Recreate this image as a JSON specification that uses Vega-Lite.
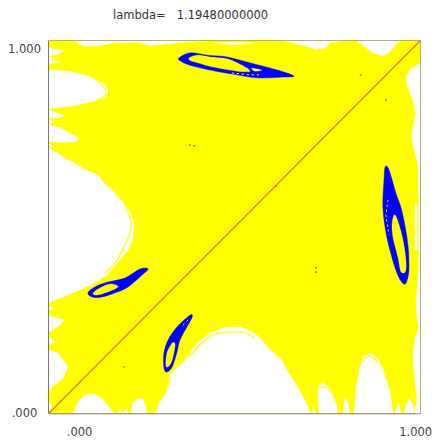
{
"$schema":"https://vega.github.io/schema/vega-lite/v6.json",
"width":371,"height":372,
"autosize":{"type":"none"},
"padding":{"left":49,"top":41,"right":15,"bottom":28},
"background":"#ffffff",
"view":{"stroke":"#777777","strokeWidth":1.5,"fill":null},
"title":{"text":"lambda=\u00a0\u00a0\u00a01.19480000000","anchor":"start","frame":"group","dx":64,"offset":17,"font":"DejaVu Sans","fontSize":11.5,"fontWeight":"normal","color":"#333333"},
"datasets":{"shapes":[
{"g":"base","k":"base","x":0,"y":0},{"g":"base","k":"base","x":1,"y":0},{"g":"base","k":"base","x":1,"y":1},{"g":"base","k":"base","x":0,"y":1},
{"g":"t1","k":"gap","x":0.070,"y":1},{"g":"t1","k":"gap","x":0.092,"y":0.987},{"g":"t1","k":"gap","x":0.129,"y":0.987},{"g":"t1","k":"gap","x":0.173,"y":0.995},{"g":"t1","k":"gap","x":0.237,"y":0.997},{"g":"t1","k":"gap","x":0.272,"y":0.988},{"g":"t1","k":"gap","x":0.326,"y":0.993},{"g":"t1","k":"gap","x":0.367,"y":0.997},{"g":"t1","k":"gap","x":0.407,"y":1},
{"g":"t2","k":"gap","x":0.442,"y":0.995},{"g":"t2","k":"gap","x":0.496,"y":0.996},{"g":"t2","k":"gap","x":0.550,"y":0.995},{"g":"t2","k":"gap","x":0.496,"y":0.989},
{"g":"t3","k":"gap","x":0.636,"y":1},{"g":"t3","k":"gap","x":0.690,"y":0.987},{"g":"t3","k":"gap","x":0.717,"y":0.978},{"g":"t3","k":"gap","x":0.744,"y":0.980},{"g":"t3","k":"gap","x":0.757,"y":0.995},{"g":"t3","k":"gap","x":0.779,"y":0.999},{"g":"t3","k":"gap","x":0.785,"y":1},
{"g":"t4","k":"gap","x":0.830,"y":1},{"g":"t4","k":"gap","x":0.852,"y":0.984},{"g":"t4","k":"gap","x":0.873,"y":0.968},{"g":"t4","k":"gap","x":0.900,"y":0.960},{"g":"t4","k":"gap","x":0.919,"y":0.970},{"g":"t4","k":"gap","x":0.933,"y":0.989},{"g":"t4","k":"gap","x":0.946,"y":1},
{"g":"r1","k":"gap","x":1,"y":0.941},{"g":"r1","k":"gap","x":0.973,"y":0.922},{"g":"r1","k":"gap","x":0.962,"y":0.903},{"g":"r1","k":"gap","x":0.968,"y":0.874},{"g":"r1","k":"gap","x":0.981,"y":0.841},{"g":"r1","k":"gap","x":0.989,"y":0.806},{"g":"r1","k":"gap","x":0.978,"y":0.755},{"g":"r1","k":"gap","x":0.978,"y":0.739},{"g":"r1","k":"gap","x":0.986,"y":0.702},{"g":"r1","k":"gap","x":0.995,"y":0.667},{"g":"r1","k":"gap","x":0.997,"y":0.573},{"g":"r1","k":"gap","x":0.997,"y":0.384},{"g":"r1","k":"gap","x":0.992,"y":0.323},{"g":"r1","k":"gap","x":0.989,"y":0.298},{"g":"r1","k":"gap","x":0.992,"y":0.263},{"g":"r1","k":"gap","x":0.997,"y":0.231},{"g":"r1","k":"gap","x":0.986,"y":0.196},{"g":"r1","k":"gap","x":0.981,"y":0.156},{"g":"r1","k":"gap","x":0.986,"y":0.094},{"g":"r1","k":"gap","x":0.992,"y":0.035},{"g":"r1","k":"gap","x":0.986,"y":0},{"g":"r1","k":"gap","x":1,"y":0},
{"g":"r2","k":"gap","x":0.986,"y":0.565},{"g":"r2","k":"gap","x":0.992,"y":0.559},{"g":"r2","k":"gap","x":0.992,"y":0.438},{"g":"r2","k":"gap","x":0.986,"y":0.438},
{"g":"l1","k":"gap","x":0,"y":0.981},{"g":"l1","k":"gap","x":0.040,"y":0.973},{"g":"l1","k":"gap","x":0.024,"y":0.965},{"g":"l1","k":"gap","x":0,"y":0.960},
{"g":"l2","k":"gap","x":0,"y":0.956},{"g":"l2","k":"gap","x":0.016,"y":0.953},{"g":"l2","k":"gap","x":0,"y":0.950},
{"g":"l3","k":"gap","x":0,"y":0.949},{"g":"l3","k":"gap","x":0.030,"y":0.944},{"g":"l3","k":"gap","x":0,"y":0.938},
{"g":"blob1","k":"gap","x":0,"y":0.923},{"g":"blob1","k":"gap","x":0.065,"y":0.917},{"g":"blob1","k":"gap","x":0.111,"y":0.903},{"g":"blob1","k":"gap","x":0.146,"y":0.887},{"g":"blob1","k":"gap","x":0.159,"y":0.868},{"g":"blob1","k":"gap","x":0.151,"y":0.847},{"g":"blob1","k":"gap","x":0.111,"y":0.836},{"g":"blob1","k":"gap","x":0.065,"y":0.825},{"g":"blob1","k":"gap","x":0,"y":0.819},
{"g":"l4","k":"gap","x":0,"y":0.815},{"g":"l4","k":"gap","x":0.043,"y":0.798},{"g":"l4","k":"gap","x":0.011,"y":0.793},{"g":"l4","k":"gap","x":0,"y":0.796},
{"g":"l5","k":"gap","x":0,"y":0.788},{"g":"l5","k":"gap","x":0.016,"y":0.782},{"g":"l5","k":"gap","x":0,"y":0.777},
{"g":"blob2","k":"gap","x":0,"y":0.774},{"g":"blob2","k":"gap","x":0.030,"y":0.766},{"g":"blob2","k":"gap","x":0.065,"y":0.747},{"g":"blob2","k":"gap","x":0.081,"y":0.737},{"g":"blob2","k":"gap","x":0.070,"y":0.728},{"g":"blob2","k":"gap","x":0.030,"y":0.728},{"g":"blob2","k":"gap","x":0,"y":0.731},
{"g":"l6","k":"gap","x":0,"y":0.723},{"g":"l6","k":"gap","x":0.016,"y":0.715},{"g":"l6","k":"gap","x":0,"y":0.718},
{"g":"blob3","k":"gap","x":0,"y":0.712},{"g":"blob3","k":"gap","x":0.022,"y":0.699},{"g":"blob3","k":"gap","x":0.043,"y":0.685},{"g":"blob3","k":"gap","x":0.078,"y":0.667},{"g":"blob3","k":"gap","x":0.092,"y":0.656},{"g":"blob3","k":"gap","x":0.132,"y":0.640},{"g":"blob3","k":"gap","x":0.146,"y":0.621},{"g":"blob3","k":"gap","x":0.178,"y":0.591},{"g":"blob3","k":"gap","x":0.199,"y":0.567},{"g":"blob3","k":"gap","x":0.218,"y":0.540},{"g":"blob3","k":"gap","x":0.229,"y":0.511},{"g":"blob3","k":"gap","x":0.226,"y":0.470},{"g":"blob3","k":"gap","x":0.213,"y":0.438},{"g":"blob3","k":"gap","x":0.186,"y":0.406},{"g":"blob3","k":"gap","x":0.156,"y":0.371},{"g":"blob3","k":"gap","x":0.111,"y":0.344},{"g":"blob3","k":"gap","x":0.051,"y":0.317},{"g":"blob3","k":"gap","x":0.030,"y":0.309},{"g":"blob3","k":"gap","x":0.008,"y":0.301},{"g":"blob3","k":"gap","x":0,"y":0.296},
{"g":"l7","k":"gap","x":0,"y":0.285},{"g":"l7","k":"gap","x":0.011,"y":0.282},{"g":"l7","k":"gap","x":0,"y":0.277},
{"g":"l8","k":"gap","x":0,"y":0.261},{"g":"l8","k":"gap","x":0.040,"y":0.250},{"g":"l8","k":"gap","x":0.030,"y":0.237},{"g":"l8","k":"gap","x":0,"y":0.218},
{"g":"l9","k":"gap","x":0,"y":0.202},{"g":"l9","k":"gap","x":0.019,"y":0.191},{"g":"l9","k":"gap","x":0,"y":0.185},
{"g":"l10","k":"gap","x":0,"y":0.169},{"g":"l10","k":"gap","x":0.024,"y":0.161},{"g":"l10","k":"gap","x":0.051,"y":0.124},{"g":"l10","k":"gap","x":0.038,"y":0.094},{"g":"l10","k":"gap","x":0,"y":0.062},
{"g":"b0","k":"gap","x":0,"y":0.030},{"g":"b0","k":"gap","x":0.008,"y":0.013},{"g":"b0","k":"gap","x":0,"y":0.005},
{"g":"b1","k":"gap","x":0.065,"y":0},{"g":"b1","k":"gap","x":0.078,"y":0.030},{"g":"b1","k":"gap","x":0.097,"y":0.048},{"g":"b1","k":"gap","x":0.124,"y":0.051},{"g":"b1","k":"gap","x":0.146,"y":0.035},{"g":"b1","k":"gap","x":0.164,"y":0.013},{"g":"b1","k":"gap","x":0.175,"y":0},
{"g":"b2","k":"gap","x":0.186,"y":0},{"g":"b2","k":"gap","x":0.191,"y":0.013},{"g":"b2","k":"gap","x":0.197,"y":0},
{"g":"b3","k":"gap","x":0.199,"y":0},{"g":"b3","k":"gap","x":0.208,"y":0.011},{"g":"b3","k":"gap","x":0.213,"y":0},
{"g":"b4","k":"gap","x":0.221,"y":0},{"g":"b4","k":"gap","x":0.226,"y":0.027},{"g":"b4","k":"gap","x":0.240,"y":0.038},{"g":"b4","k":"gap","x":0.253,"y":0.038},{"g":"b4","k":"gap","x":0.261,"y":0.013},{"g":"b4","k":"gap","x":0.264,"y":0},
{"g":"b5","k":"gap","x":0.286,"y":0},{"g":"b5","k":"gap","x":0.299,"y":0.030},{"g":"b5","k":"gap","x":0.313,"y":0.048},{"g":"b5","k":"gap","x":0.326,"y":0.083},{"g":"b5","k":"gap","x":0.326,"y":0.102},{"g":"b5","k":"gap","x":0.358,"y":0.134},{"g":"b5","k":"gap","x":0.372,"y":0.148},{"g":"b5","k":"gap","x":0.380,"y":0.161},{"g":"b5","k":"gap","x":0.402,"y":0.191},{"g":"b5","k":"gap","x":0.439,"y":0.218},{"g":"b5","k":"gap","x":0.482,"y":0.231},{"g":"b5","k":"gap","x":0.515,"y":0.231},{"g":"b5","k":"gap","x":0.547,"y":0.218},{"g":"b5","k":"gap","x":0.569,"y":0.202},{"g":"b5","k":"gap","x":0.596,"y":0.169},{"g":"b5","k":"gap","x":0.628,"y":0.142},{"g":"b5","k":"gap","x":0.644,"y":0.110},{"g":"b5","k":"gap","x":0.663,"y":0.081},{"g":"b5","k":"gap","x":0.682,"y":0.048},{"g":"b5","k":"gap","x":0.695,"y":0.022},{"g":"b5","k":"gap","x":0.704,"y":0},
{"g":"b6","k":"gap","x":0.709,"y":0},{"g":"b6","k":"gap","x":0.712,"y":0.013},{"g":"b6","k":"gap","x":0.720,"y":0},
{"g":"b7","k":"gap","x":0.728,"y":0},{"g":"b7","k":"gap","x":0.725,"y":0.062},{"g":"b7","k":"gap","x":0.736,"y":0.081},{"g":"b7","k":"gap","x":0.749,"y":0.075},{"g":"b7","k":"gap","x":0.763,"y":0.054},{"g":"b7","k":"gap","x":0.776,"y":0.016},{"g":"b7","k":"gap","x":0.779,"y":0},
{"g":"b8","k":"gap","x":0.792,"y":0},{"g":"b8","k":"gap","x":0.798,"y":0.040},{"g":"b8","k":"gap","x":0.806,"y":0.030},{"g":"b8","k":"gap","x":0.809,"y":0},
{"g":"b9","k":"gap","x":0.822,"y":0},{"g":"b9","k":"gap","x":0.830,"y":0.081},{"g":"b9","k":"gap","x":0.846,"y":0.151},{"g":"b9","k":"gap","x":0.865,"y":0.161},{"g":"b9","k":"gap","x":0.884,"y":0.148},{"g":"b9","k":"gap","x":0.900,"y":0.116},{"g":"b9","k":"gap","x":0.919,"y":0.056},{"g":"b9","k":"gap","x":0.927,"y":0},
{"g":"b10","k":"gap","x":0.933,"y":0},{"g":"b10","k":"gap","x":0.941,"y":0.027},{"g":"b10","k":"gap","x":0.949,"y":0},
{"g":"b11","k":"gap","x":0.957,"y":0},{"g":"b11","k":"gap","x":0.968,"y":0.040},{"g":"b11","k":"gap","x":0.981,"y":0.022},{"g":"b11","k":"gap","x":0.984,"y":0},
{"g":"s1","k":"streak","x":0.119,"y":0.901},{"g":"s1","k":"streak","x":0.146,"y":0.879},{"g":"s1","k":"streak","x":0.154,"y":0.866},{"g":"s1","k":"streak","x":0.146,"y":0.849},{"g":"s1","k":"streak","x":0.127,"y":0.841},
{"g":"s2","k":"streak","x":0.199,"y":0.573},{"g":"s2","k":"streak","x":0.221,"y":0.513},{"g":"s2","k":"streak","x":0.213,"y":0.470},{"g":"s2","k":"streak","x":0.191,"y":0.425},{"g":"s2","k":"streak","x":0.178,"y":0.403},{"g":"s2","k":"streak","x":0.151,"y":0.376},
{"g":"s3","k":"streak","x":0.375,"y":0.148},{"g":"s3","k":"streak","x":0.412,"y":0.188},{"g":"s3","k":"streak","x":0.447,"y":0.212},{"g":"s3","k":"streak","x":0.493,"y":0.218},{"g":"s3","k":"streak","x":0.528,"y":0.215},{"g":"s3","k":"streak","x":0.555,"y":0.202},
{"g":"s4","k":"streak","x":0.844,"y":0.137},{"g":"s4","k":"streak","x":0.865,"y":0.153},{"g":"s4","k":"streak","x":0.887,"y":0.134},
{"g":"s5","k":"streak","x":0.733,"y":0.070},{"g":"s5","k":"streak","x":0.749,"y":0.067},{"g":"s5","k":"streak","x":0.760,"y":0.054},
{"g":"top","k":"loop","x":0.350,"y":0.954},{"g":"top","k":"loop","x":0.380,"y":0.968},{"g":"top","k":"loop","x":0.426,"y":0.962},{"g":"top","k":"loop","x":0.480,"y":0.957},{"g":"top","k":"loop","x":0.542,"y":0.941},{"g":"top","k":"loop","x":0.615,"y":0.922},{"g":"top","k":"loop","x":0.660,"y":0.906},{"g":"top","k":"loop","x":0.631,"y":0.903},{"g":"top","k":"loop","x":0.561,"y":0.901},{"g":"top","k":"loop","x":0.507,"y":0.909},{"g":"top","k":"loop","x":0.434,"y":0.922},{"g":"top","k":"loop","x":0.380,"y":0.935},{"g":"top","k":"loop","x":0.358,"y":0.944},
{"g":"right","k":"loop","x":0.906,"y":0.661},{"g":"right","k":"loop","x":0.914,"y":0.659},{"g":"right","k":"loop","x":0.925,"y":0.626},{"g":"right","k":"loop","x":0.935,"y":0.591},{"g":"right","k":"loop","x":0.949,"y":0.551},{"g":"right","k":"loop","x":0.960,"y":0.500},{"g":"right","k":"loop","x":0.968,"y":0.446},{"g":"right","k":"loop","x":0.970,"y":0.384},{"g":"right","k":"loop","x":0.962,"y":0.349},{"g":"right","k":"loop","x":0.951,"y":0.352},{"g":"right","k":"loop","x":0.935,"y":0.384},{"g":"right","k":"loop","x":0.919,"y":0.438},{"g":"right","k":"loop","x":0.908,"y":0.487},{"g":"right","k":"loop","x":0.900,"y":0.554},{"g":"right","k":"loop","x":0.903,"y":0.626},
{"g":"left","k":"loop","x":0.105,"y":0.323},{"g":"left","k":"loop","x":0.124,"y":0.339},{"g":"left","k":"loop","x":0.159,"y":0.352},{"g":"left","k":"loop","x":0.205,"y":0.363},{"g":"left","k":"loop","x":0.245,"y":0.387},{"g":"left","k":"loop","x":0.267,"y":0.387},{"g":"left","k":"loop","x":0.251,"y":0.371},{"g":"left","k":"loop","x":0.213,"y":0.339},{"g":"left","k":"loop","x":0.178,"y":0.323},{"g":"left","k":"loop","x":0.143,"y":0.312},{"g":"left","k":"loop","x":0.116,"y":0.312},
{"g":"bottom","k":"loop","x":0.380,"y":0.263},{"g":"bottom","k":"loop","x":0.386,"y":0.258},{"g":"bottom","k":"loop","x":0.375,"y":0.237},{"g":"bottom","k":"loop","x":0.353,"y":0.196},{"g":"bottom","k":"loop","x":0.345,"y":0.164},{"g":"bottom","k":"loop","x":0.332,"y":0.124},{"g":"bottom","k":"loop","x":0.318,"y":0.110},{"g":"bottom","k":"loop","x":0.310,"y":0.121},{"g":"bottom","k":"loop","x":0.310,"y":0.161},{"g":"bottom","k":"loop","x":0.321,"y":0.196},{"g":"bottom","k":"loop","x":0.345,"y":0.231},
{"g":"toph","k":"hole","x":0.377,"y":0.954},{"g":"toph","k":"hole","x":0.399,"y":0.962},{"g":"toph","k":"hole","x":0.434,"y":0.957},{"g":"toph","k":"hole","x":0.480,"y":0.952},{"g":"toph","k":"hole","x":0.520,"y":0.935},{"g":"toph","k":"hole","x":0.542,"y":0.919},{"g":"toph","k":"hole","x":0.507,"y":0.919},{"g":"toph","k":"hole","x":0.442,"y":0.930},{"g":"toph","k":"hole","x":0.402,"y":0.941},{"g":"toph","k":"hole","x":0.383,"y":0.946},
{"g":"toph2","k":"hole","x":0.547,"y":0.927},{"g":"toph2","k":"hole","x":0.574,"y":0.922},{"g":"toph2","k":"hole","x":0.555,"y":0.919},
{"g":"righth","k":"hole","x":0.933,"y":0.532},{"g":"righth","k":"hole","x":0.949,"y":0.487},{"g":"righth","k":"hole","x":0.960,"y":0.430},{"g":"righth","k":"hole","x":0.962,"y":0.384},{"g":"righth","k":"hole","x":0.949,"y":0.379},{"g":"righth","k":"hole","x":0.941,"y":0.417},{"g":"righth","k":"hole","x":0.927,"y":0.473},{"g":"righth","k":"hole","x":0.925,"y":0.511},
{"g":"lefth","k":"hole","x":0.119,"y":0.323},{"g":"lefth","k":"hole","x":0.137,"y":0.336},{"g":"lefth","k":"hole","x":0.165,"y":0.347},{"g":"lefth","k":"hole","x":0.186,"y":0.341},{"g":"lefth","k":"hole","x":0.173,"y":0.331},{"g":"lefth","k":"hole","x":0.143,"y":0.320},{"g":"lefth","k":"hole","x":0.124,"y":0.317},
{"g":"bottomh","k":"hole","x":0.332,"y":0.188},{"g":"bottomh","k":"hole","x":0.340,"y":0.183},{"g":"bottomh","k":"hole","x":0.332,"y":0.142},{"g":"bottomh","k":"hole","x":0.321,"y":0.124},{"g":"bottomh","k":"hole","x":0.315,"y":0.129},{"g":"bottomh","k":"hole","x":0.318,"y":0.161},
{"g":"f1","k":"fleck","x":0.493,"y":0.914},{"g":"f1","k":"fleck","x":0.542,"y":0.909},{"g":"f1","k":"fleck","x":0.574,"y":0.909},
{"g":"f2","k":"fleck","x":0.914,"y":0.573},{"g":"f2","k":"fleck","x":0.908,"y":0.532},{"g":"f2","k":"fleck","x":0.916,"y":0.479},
{"g":"f3","k":"fleck","x":0.361,"y":0.237},{"g":"f3","k":"fleck","x":0.375,"y":0.250},
{"g":"diag","k":"diag","x":0,"y":0},{"g":"diag","k":"diag","x":1,"y":1},
{"g":"d1","k":"dot","x":0.840,"y":0.908},{"g":"d2","k":"dot","x":0.908,"y":0.841},{"g":"d3","k":"dot","x":0.380,"y":0.720},{"g":"d4","k":"dot","x":0.391,"y":0.718},{"g":"d5","k":"dot","x":0.612,"y":0.610},{"g":"d6","k":"dot","x":0.720,"y":0.390},{"g":"d7","k":"dot","x":0.720,"y":0.379},
{"g":"d8","k":"speck","x":0.202,"y":0.124}
]},
"data":{"name":"shapes"},
"encoding":{
"x":{"field":"x","type":"quantitative","scale":{"domain":[0,1],"nice":false,"zero":false},"title":null,
"axis":{"values":[0.081,0.987],"labelExpr":"datum.value<0.5?'.000':'1.000'","ticks":false,"grid":false,"domainColor":"#808080","domainWidth":1.5,"labelPadding":13,"labelFont":"DejaVu Sans","labelFontSize":11.5,"labelColor":"#444444","labelFlush":false,"labelOverlap":false}},
"y":{"field":"y","type":"quantitative","scale":{"domain":[0,1],"nice":false,"zero":false},"title":null,
"axis":{"values":[0,0.978],"labelExpr":"datum.value<0.5?'.000':'1.000'","ticks":false,"grid":false,"domainColor":"#111111","domainWidth":1.5,"labelPadding":25,"labelAlign":"center","labelFont":"DejaVu Sans","labelFontSize":11.5,"labelColor":"#444444","labelFlush":false,"labelOverlap":false}}
},
"layer":[
{"transform":[{"filter":"datum.k=='base'"}],"mark":{"type":"line","fill":"#ffff00","stroke":"#ffff00","strokeWidth":0.5},"encoding":{"detail":{"field":"g"},"order":{"value":null}}},
{"transform":[{"filter":"datum.k=='gap'"}],"mark":{"type":"line","fill":"#ffffff","stroke":"#ffffff","strokeWidth":0.5},"encoding":{"detail":{"field":"g"},"order":{"value":null}}},
{"transform":[{"filter":"datum.k=='streak'"}],"mark":{"type":"line","stroke":"#ffff00","strokeWidth":1.2,"interpolate":"cardinal"},"encoding":{"detail":{"field":"g"},"order":{"value":null}}},
{"transform":[{"filter":"datum.k=='loop'"}],"mark":{"type":"line","fill":"#0000ff","stroke":"#0000ff","strokeWidth":0.5,"interpolate":"cardinal-closed"},"encoding":{"detail":{"field":"g"},"order":{"value":null}}},
{"transform":[{"filter":"datum.k=='hole'"}],"mark":{"type":"line","fill":"#ffff00","stroke":"#ffff00","strokeWidth":0.3,"interpolate":"cardinal-closed"},"encoding":{"detail":{"field":"g"},"order":{"value":null}}},
{"transform":[{"filter":"datum.k=='fleck'"}],"mark":{"type":"line","stroke":"#ffff40","strokeWidth":1,"strokeDash":[2,3]},"encoding":{"detail":{"field":"g"},"order":{"value":null}}},
{"transform":[{"filter":"datum.k=='diag'"}],"mark":{"type":"line","stroke":"#f0700a","strokeWidth":1.2},"encoding":{"order":{"value":null}}},
{"transform":[{"filter":"datum.k=='dot'"}],"mark":{"type":"square","color":"#f05010","size":3,"opacity":1}},
{"transform":[{"filter":"datum.k=='speck'"}],"mark":{"type":"square","color":"#a0a030","size":3,"opacity":1}}
]
}
